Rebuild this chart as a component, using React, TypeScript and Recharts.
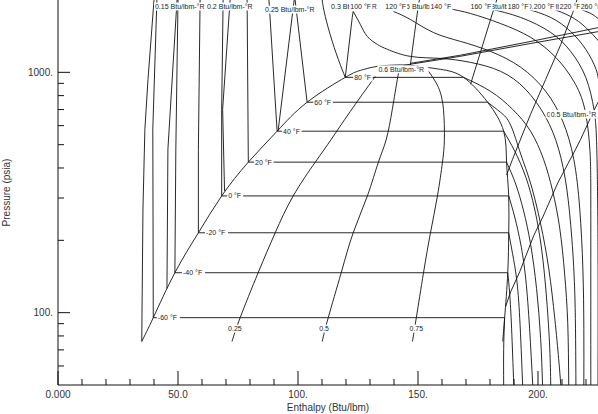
import React from 'react'
import { ComposedChart, Line, Scatter, XAxis, YAxis } from 'recharts'

// [enthalpy Btu/lbm, pressure psia]
type Pt = [number, number]

const hTicks = [0, 10, 20, 30, 40, 50, 60, 70, 80, 90, 100, 110, 120, 130, 140, 150, 160, 170, 180, 190, 200, 210, 220]
const hLabels: Record<number, string> = { 0: '0.000', 50: '50.0', 100: '100.', 150: '150.', 200: '200.' }
const pTicks = [60, 70, 80, 90, 100, 200, 300, 400, 500, 600, 700, 800, 900, 1000]
const pLabels: Record<number, string> = { 100: '100.', 1000: '1000.' }

// saturation dome
const satLiquid: Pt[] = [[34.9, 75.9], [39.7, 95.3], [48.7, 146.6], [58.5, 215], [68.2, 306], [79.3, 423], [91.3, 569], [103.8, 751], [119.7, 953], [126.0, 1019], [133.1, 1059], [142.7, 1074]]
const satVapor: Pt[] = [[142.7, 1074], [148.9, 1064], [159.4, 1029], [169.0, 953], [179.0, 751], [185.7, 569], [186.9, 423], [187.8, 306], [187.8, 215], [187.4, 146.6], [186.1, 95.3], [185.3, 75.9]]

// isotherms inside the dome
const satPress = [95.3, 146.6, 215, 306, 423, 569, 751, 953]
const satHLiq = [39.7, 48.7, 58.5, 68.2, 79.3, 91.3, 103.8, 119.7]
const satHVap = [186.1, 187.4, 187.8, 187.8, 186.9, 185.7, 179.0, 169.0]

// quality lines
const q25: Pt[] = [[72.5, 75.9], [75.9, 95.3], [83.4, 146.6], [90.5, 215], [98.0, 306], [107.2, 423], [113.9, 527], [121.8, 688], [132.2, 962]]
const q50: Pt[] = [[110.1, 75.9], [112.6, 95.3], [118.0, 146.6], [123.0, 215], [128.9, 306], [133.5, 423], [136.8, 527], [139.3, 702], [141.4, 935], [142.3, 1029]]
const q75: Pt[] = [[147.7, 75.9], [149.3, 95.3], [152.3, 146.6], [155.2, 215], [158.1, 306], [160.2, 423], [161.0, 527], [160.6, 702], [158.5, 866], [154.4, 1010]]

// liquid side lines up to the top
const liqA: Pt[] = [[34.9, 75.9], [35.4, 270], [36.2, 580], [37.5, 935], [40.0, 2000]]
const liqB: Pt[] = [[39.7, 95.3], [39.5, 580], [41.2, 2000]]
const liqC: Pt[] = [[45.4, 126], [45.8, 479], [49.6, 2000]]
const liqD: Pt[] = [[48.7, 146.6], [49.1, 479], [50.0, 2000]]
const liqE: Pt[] = [[58.5, 215], [58.5, 479], [59.2, 2000]]
const liqF: Pt[] = [[68.2, 306], [68.2, 702], [68.8, 2000]]
const liqG: Pt[] = [[69.4, 321], [68.6, 702], [71.7, 2000]]
const liqH: Pt[] = [[79.3, 423], [78.8, 2000]]
const liqI: Pt[] = [[91.3, 569], [87.9, 2000]]
const liqJ: Pt[] = [[91.7, 569], [98.4, 2000]]
const liqK: Pt[] = [[103.8, 751], [98.8, 2000]]
const liq80: Pt[] = [[119.7, 953], [116.8, 1132], [113.4, 1437], [110.9, 1791], [110.1, 2000]]
const s30: Pt[] = [[119.7, 953], [122.6, 1692], [123.0, 1791]]

// vapor side isotherms
const vapM60: Pt[] = [[186.1, 95.3], [185.7, 71.0], [185.7, 50]]
const vapM40: Pt[] = [[187.4, 146.6], [188.2, 120], [189.0, 85.8], [189.9, 50]]
const vapM20: Pt[] = [[187.8, 215], [189.4, 176], [191.1, 138], [192.4, 94.4], [193.6, 50]]
const vap0: Pt[] = [[187.8, 306], [190.3, 250], [192.8, 193], [194.9, 138], [196.5, 85.8], [197.8, 50]]
const vap20: Pt[] = [[186.9, 423], [190.7, 343], [194.0, 265], [196.9, 193], [199.4, 126], [201.1, 78.0], [201.9, 50]]
const vap40: Pt[] = [[185.7, 569], [190.3, 470], [194.9, 367], [198.6, 270], [201.5, 184], [203.6, 114], [204.9, 71.0], [205.3, 50]]
const vap60: Pt[] = [[179.0, 751], [184.4, 682], [188.6, 603], [192.8, 457], [197.0, 343], [201.1, 234], [204.5, 152], [207.0, 94.4], [208.6, 64.4], [209.5, 50]]
const vap80: Pt[] = [[169.0, 953], [180.2, 834], [189.4, 702], [196.9, 569], [202.3, 435], [206.1, 321], [209.1, 223], [211.1, 145], [212.4, 90.0], [212.8, 50]]
const t100: Pt[] = [[123.0, 1791], [126.0, 1581], [128.9, 1410], [133.1, 1306], [137.3, 1246], [146.8, 1165], [159.4, 1143], [171.9, 1100], [184.4, 1010], [194.8, 850], [203.2, 651], [208.6, 479], [212.0, 327], [214.1, 203], [215.4, 114], [215.8, 50]]
const t120: Pt[] = [[139.8, 1791], [146.8, 1660], [156.4, 1465], [167.7, 1345], [180.2, 1222], [192.8, 1050], [203.2, 834], [210.3, 626], [214.9, 435], [217.4, 270], [218.7, 152], [219.1, 85.8], [219.1, 50]]
const t140: Pt[] = [[162.7, 1843], [171.9, 1757], [184.4, 1596], [197.0, 1397], [207.4, 1154], [214.9, 918], [219.5, 702], [221.6, 479], [222.0, 297], [222.0, 114], [222.0, 50]]
const t160: Pt[] = [[179.4, 1843], [192.8, 1692], [205.3, 1465], [213.6, 1222], [219.9, 953], [223.3, 702], [224.5, 479], [225.0, 184], [225.0, 50]]
const t180: Pt[] = [[194.8, 1843], [205.3, 1692], [213.6, 1479], [219.9, 1246], [224.2, 1029], [225.4, 892]]
const t200: Pt[] = [[205.7, 1843], [213.6, 1708], [219.9, 1537], [225.4, 1345]]
const t220: Pt[] = [[216.6, 1843], [222.0, 1757], [225.4, 1660]]

// vapor side isentropes
const s50: Pt[] = [[186.5, 106], [188.6, 122], [192.4, 148], [198.2, 209], [202.0, 250], [208.2, 346], [215.7, 479], [217.8, 527], [222.0, 651], [225.0, 751]]
const s45: Pt[] = [[186.9, 374], [189.4, 435], [196.9, 669], [203.2, 935], [209.5, 1306], [214.5, 1774], [216.2, 2000]]
const s40: Pt[] = [[171.9, 892], [181.5, 1824], [182.8, 2000]]
const s35: Pt[] = [[146.8, 1069], [148.5, 1437], [150.2, 1914], [150.6, 2000]]
const s60a: Pt[] = [[143.9, 1069], [167.4, 1165], [197.0, 1319], [225.4, 1479]]
const s60b: Pt[] = [[146.8, 1090], [167.4, 1177], [197.0, 1345], [225.4, 1537]]

const entropyLabels: [string, number, number][] = [
  ['0.15 Btu/lbm-°R', 40.4, 1879], ['0.2 Btu/lbm-°R', 62.1, 1879], ['0.25 Btu/lbm-°R', 86.3, 1824],
  ['0.3 Btu/lbm-°R', 113.8, 1879], ['0.35 Btu/lbm-°R', 141.0, 1879], ['0.4 Btu/lbm-°R', 175.3, 1879],
  ['0.45 Btu/lbm-°R', 195.7, 1879], ['0.6 Btu/lbm-°R', 133.5, 1029], ['0.55 Btu/lbm-°R', 203.6, 669],
  ['0.5 Btu/lbm-°R', 205.3, 669],
]
const tempLabels: [string, number, number][] = [
  ['-60 °F', 41.6, 95.3], ['-40 °F', 52.1, 146.6], ['-20 °F', 61.7, 215], ['0 °F', 70.9, 306],
  ['20 °F', 82.1, 423], ['40 °F', 93.8, 569], ['60 °F', 106.8, 751], ['80 °F', 123.4, 953],
  ['100 °F', 121.8, 1879], ['120 °F', 136.4, 1879], ['140 °F', 155.2, 1879], ['160 °F', 171.9, 1879],
  ['180 °F', 187.4, 1879], ['200 °F', 198.2, 1879], ['220 °F', 209.1, 1879], ['260 °F', 217.8, 1879],
]
const qualityLabels: [string, number, number][] = [['0.25', 73.7, 85.8], ['0.5', 110.9, 85.8], ['0.75', 149.3, 85.8]]

const rows = (pts: Pt[]) => pts.map(([h, p]) => ({ h, p }))
const labelRows = (list: [string, number, number][], center = false) =>
  list.map(([text, h, p]) => ({ text, h, p, center }))

const horizontals: Pt[][] = satPress.map((p, i) => [[satHLiq[i], p], [satHVap[i], p]])

const straight: Pt[][] = [
  liqA, liqB, liqC, liqD, liqE, liqF, liqG, liqH, liqI, liqJ, liqK, s30,
  s50, s45, s40, s35, s60a, s60b, ...horizontals,
]
const smooth: Pt[][] = [
  satLiquid, satVapor, q25, q50, q75, liq80,
  vapM60, vapM40, vapM20, vap0, vap20, vap40, vap60, vap80,
  t100, t120, t140, t160, t180, t200, t220,
]

const ink = '#111'

const LabelShape = (props: any) => {
  const { cx, cy, payload } = props
  const w = payload.text.length * 3.5 + 2
  const x0 = payload.center ? cx - w / 2 : cx - 1
  return (
    <g>
      <rect x={x0} y={cy - 4} width={w} height={8} fill="#fff" />
      <text x={cx} y={cy + 2.5} fontSize={7} fill="#222" textAnchor={payload.center ? 'middle' : 'start'}>
        {payload.text}
      </text>
    </g>
  )
}

const BottomTick = ({ x, y, payload }: any) => {
  const major = payload.value % 50 === 0
  return (
    <g>
      <line x1={x} x2={x} y1={y} y2={y - (major ? 14 : 6)} stroke={ink} />
      {major && (
        <text x={x} y={y + 13} textAnchor="middle" fontSize={10} fill="#333">
          {hLabels[payload.value]}
        </text>
      )}
    </g>
  )
}
const TopTick = ({ x, y, payload }: any) => {
  const major = payload.value % 50 === 0
  return <line x1={x} x2={x} y1={y} y2={y + (major ? 14 : 7)} stroke={ink} />
}
const LeftTick = ({ x, y, payload }: any) => {
  const major = payload.value === 100 || payload.value === 1000
  return (
    <g>
      <line x1={x} x2={x + (major ? 12 : 6)} y1={y} y2={y} stroke={ink} />
      {major && (
        <text x={x - 5} y={y + 3.5} textAnchor="end" fontSize={10} fill="#333">
          {pLabels[payload.value]}
        </text>
      )}
    </g>
  )
}
const RightTick = ({ x, y, payload }: any) => {
  const major = payload.value === 100 || payload.value === 1000
  return <line x1={x} x2={x - (major ? 12 : 6)} y1={y} y2={y} stroke={ink} />
}

export default function App() {
  return (
    <div style={{ width: 598, height: 414, background: '#fff', fontFamily: '"Liberation Sans", Arial, sans-serif' }}>
      <style>{'body{margin:0}'}</style>
      <ComposedChart width={598} height={414} margin={{ top: 0, right: 0, bottom: 0, left: 0 }}>
        <XAxis
          dataKey="h" type="number" domain={[0, 225]} ticks={hTicks} interval={0} allowDataOverflow
          height={29} tickSize={0} tickMargin={0} tickLine={false} stroke={ink} tick={<BottomTick />}
          label={{ value: 'Enthalpy (Btu/lbm)', position: 'insideBottom', offset: 3, fontSize: 10, fill: '#333' }}
        />
        <XAxis
          xAxisId="t" orientation="top" mirror type="number" domain={[0, 225]} ticks={hTicks} interval={0}
          tickSize={0} tickMargin={0} tickLine={false} axisLine={false} tick={<TopTick />}
        />
        <YAxis
          dataKey="p" type="number" scale="log" domain={[50, 2000]} ticks={pTicks} interval={0} allowDataOverflow
          width={58} tickSize={0} tickMargin={0} tickLine={false} stroke={ink} tick={<LeftTick />}
          label={{ value: 'Pressure (psia)', angle: -90, position: 'insideLeft', offset: 6, fontSize: 10, fill: '#333', style: { textAnchor: 'middle' } }}
        />
        <YAxis
          yAxisId="r" orientation="right" mirror type="number" scale="log" domain={[50, 2000]} ticks={pTicks} interval={0}
          tickSize={0} tickMargin={0} tickLine={false} axisLine={false} tick={<RightTick />}
        />
        {straight.map((c, i) => (
          <Line key={'a' + i} data={rows(c)} dataKey="p" type="linear" stroke={ink} strokeWidth={0.9}
            dot={false} activeDot={false} isAnimationActive={false} />
        ))}
        {smooth.map((c, i) => (
          <Line key={'b' + i} data={rows(c)} dataKey="p" type="natural" stroke={ink} strokeWidth={0.9}
            dot={false} activeDot={false} isAnimationActive={false} />
        ))}
        <Scatter data={labelRows(entropyLabels)} dataKey="p" shape={<LabelShape />} isAnimationActive={false} />
        <Scatter data={labelRows(tempLabels)} dataKey="p" shape={<LabelShape />} isAnimationActive={false} />
        <Scatter data={labelRows(qualityLabels, true)} dataKey="p" shape={<LabelShape />} isAnimationActive={false} />
      </ComposedChart>
    </div>
  )
}
